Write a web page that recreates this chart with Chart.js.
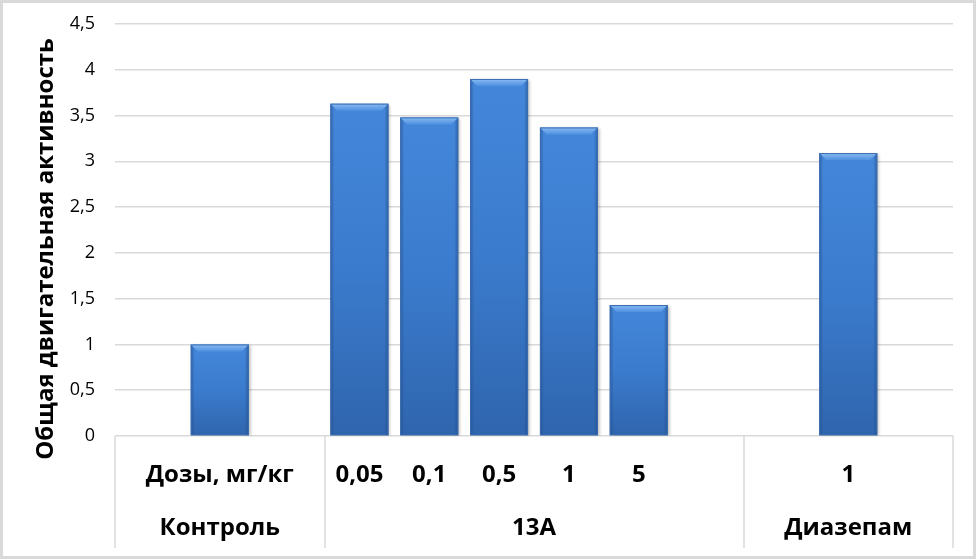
<!DOCTYPE html>
<html>
<head>
<meta charset="utf-8">
<script src="https://cdn.jsdelivr.net/npm/chart.js@4"></script>
<style>
  html, body { margin: 0; padding: 0; background: #fff; }
  #wrap { position: relative; width: 976px; height: 559px; }
</style>
</head>
<body>
<div id="wrap"><canvas id="chart" width="976" height="559"></canvas></div>
<script>
// slots of the category axis (Excel style, with empty spacer slots)
const doseLabels = ['', 'Дозы, мг/кг', '', '0,05', '0,1', '0,5', '1', '5', '', '', '1', ''];
const activity = [null, 1.0, null, 3.63, 3.48, 3.90, 3.37, 1.43, null, null, 3.09, null];
const groupNames = ['Контроль', '13А', 'Диазепам'];
const groupSpans = [[0, 2], [3, 8], [9, 11]]; // first/last slot index of each group
const yTicks = [0, 0.5, 1, 1.5, 2, 2.5, 3, 3.5, 4, 4.5];
const yTitle = 'Общая двигательная активность';

const FONT = "'Open Sans', 'Liberation Sans', sans-serif";

// per-bar vertical gradient
function barFill(ctx) {
  const chart = ctx.chart;
  const v = ctx.raw;
  if (v == null || !chart.scales.y) return '#3b7bcd';
  const yTop = chart.scales.y.getPixelForValue(v);
  const yBot = chart.scales.y.getPixelForValue(0);
  const g = chart.ctx.createLinearGradient(0, yTop, 0, yBot);
  g.addColorStop(0, '#4487da');
  g.addColorStop(0.5, '#3b7bcd');
  g.addColorStop(1, '#2f65ad');
  return g;
}

// bevel effect on top of each bar + darker side edges
const bevelPlugin = {
  id: 'bevel',
  beforeDatasetsDraw(chart) {
    const c = chart.ctx;
    c.save();
    c.shadowColor = 'rgba(0,0,0,0.28)';
    c.shadowBlur = 3;
    c.shadowOffsetX = 2;
    c.shadowOffsetY = 1;
  },
  afterDatasetsDraw(chart) {
    const c = chart.ctx;
    c.restore();
    const meta = chart.getDatasetMeta(0);
    c.save();
    meta.data.forEach((bar, i) => {
      if (activity[i] == null) return;
      const { x, y, base, width } = bar.getProps(['x', 'y', 'base', 'width'], true);
      const l = x - width / 2, r = x + width / 2;
      const b = 7;
      // top light bevel
      const g = c.createLinearGradient(0, y, 0, y + b);
      g.addColorStop(0, '#8abcf3');
      g.addColorStop(1, '#4f90e0');
      c.fillStyle = g;
      c.beginPath();
      c.moveTo(l, y);
      c.lineTo(r, y);
      c.lineTo(r - b, y + b);
      c.lineTo(l + b, y + b);
      c.closePath();
      c.fill();
      // side shading
      const gl = c.createLinearGradient(l, 0, l + 4, 0);
      gl.addColorStop(0, 'rgba(30,70,130,0.55)');
      gl.addColorStop(1, 'rgba(30,70,130,0)');
      c.fillStyle = gl;
      c.beginPath();
      c.moveTo(l, y);
      c.lineTo(l + 4, y + 4);
      c.lineTo(l + 4, base);
      c.lineTo(l, base);
      c.closePath();
      c.fill();
      const gr = c.createLinearGradient(r - 4, 0, r, 0);
      gr.addColorStop(0, 'rgba(30,70,130,0)');
      gr.addColorStop(1, 'rgba(30,70,130,0.6)');
      c.fillStyle = gr;
      c.beginPath();
      c.moveTo(r, y);
      c.lineTo(r - 4, y + 4);
      c.lineTo(r - 4, base);
      c.lineTo(r, base);
      c.closePath();
      c.fill();
      c.strokeStyle = '#3a6db0';
      c.lineWidth = 1;
      c.strokeRect(l + 0.5, y + 0.5, width - 1, base - y - 1);
    });
    c.restore();
  }
};

// two-row category table below the plot, y title, outer frame
const tablePlugin = {
  id: 'catTable',
  afterDraw(chart) {
    const c = chart.ctx;
    const xs = chart.scales.x;
    const area = chart.chartArea;
    const half = (xs.getPixelForValue(1) - xs.getPixelForValue(0)) / 2;
    c.save();
    c.strokeStyle = '#d9d9d9';
    c.lineWidth = 1.5;
    const bottomY = 548;
    const edges = [groupSpans[0][0]].concat(groupSpans.map(s => s[1] + 1));
    edges.forEach(k => {
      const px = Math.round(k < doseLabels.length ? xs.getPixelForValue(k) - half : xs.getPixelForValue(k - 1) + half);
      c.beginPath();
      c.moveTo(px, area.bottom);
      c.lineTo(px, bottomY);
      c.stroke();
    });
    c.fillStyle = '#000';
    c.font = 'bold 24px ' + FONT;
    c.textAlign = 'center';
    c.textBaseline = 'middle';
    doseLabels.forEach((t, i) => {
      if (t) c.fillText(t, xs.getPixelForValue(i), 475);
    });
    groupNames.forEach((t, i) => {
      const [a, b] = groupSpans[i];
      const cx = (xs.getPixelForValue(a) + xs.getPixelForValue(b)) / 2;
      c.fillText(t, cx, 528);
    });
    // rotated y axis title
    c.save();
    c.translate(46, 249);
    c.rotate(-Math.PI / 2);
    c.font = 'bold 24px ' + FONT;
    c.fillText(yTitle, 0, 0);
    c.restore();
    // outer frame
    c.strokeStyle = '#d9d9d9';
    c.lineWidth = 3;
    c.strokeRect(1.5, 1.5, chart.width - 3, chart.height - 3);
    c.restore();
  }
};

new Chart(document.getElementById('chart'), {
  type: 'bar',
  data: {
    labels: doseLabels,
    datasets: [{
      data: activity,
      backgroundColor: barFill,
      borderWidth: 0,
      barPercentage: 0.83,
      categoryPercentage: 1.0
    }]
  },
  options: {
    responsive: false,
    animation: false,
    layout: { padding: { top: 24, right: 23, bottom: 0, left: 0 } },
    plugins: { legend: { display: false }, tooltip: { enabled: false } },
    scales: {
      x: {
        grid: { display: false },
        border: { display: false },
        ticks: { display: false },
        afterFit: s => { s.height = 123; }
      },
      y: {
        min: 0,
        max: 4.5,
        afterBuildTicks: s => { s.ticks = yTicks.map(v => ({ value: v })); },
        afterFit: s => { s.width = 115; },
        grid: { color: '#d9d9d9', lineWidth: 1.5, drawTicks: true, tickLength: 20, tickColor: 'rgba(0,0,0,0)' },
        border: { display: false },
        ticks: {
          padding: 0,
          color: '#000',
          font: { family: FONT, size: 18 },
          callback: v => String(v).replace('.', ',')
        }
      }
    }
  },
  plugins: [bevelPlugin, tablePlugin]
});
</script>
</body>
</html>
